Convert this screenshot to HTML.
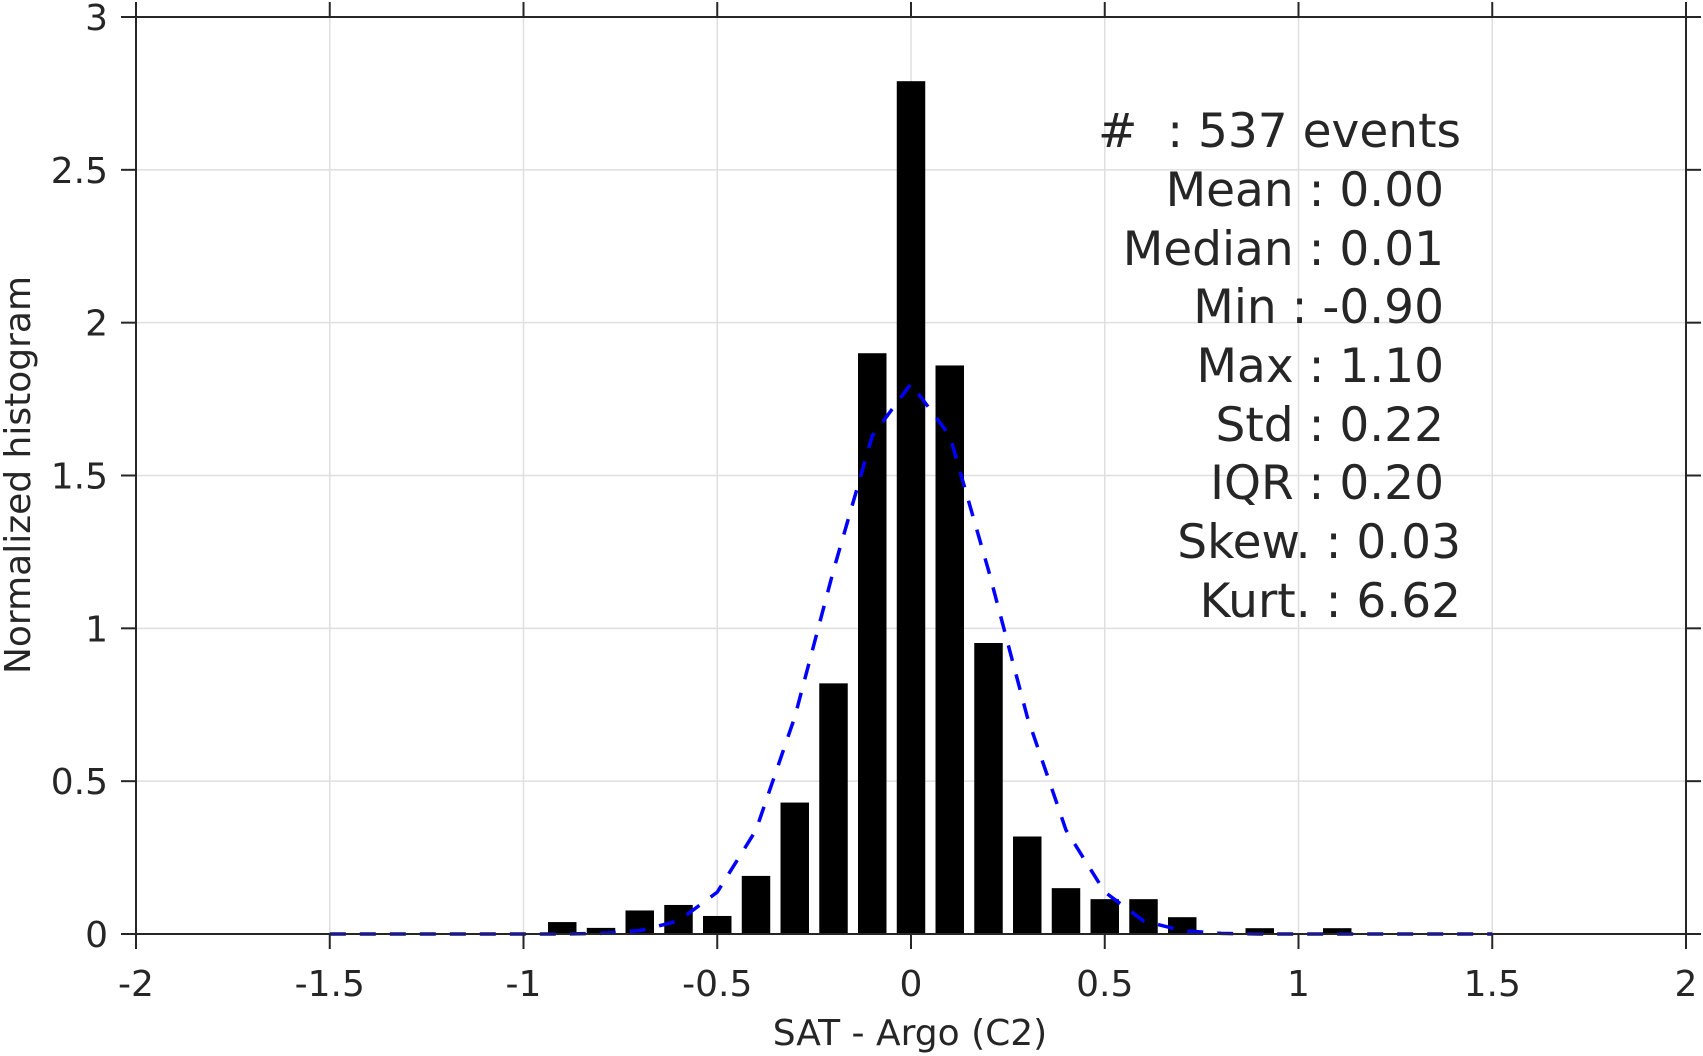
<!DOCTYPE html>
<html><head><meta charset="utf-8"><style>
html,body{margin:0;padding:0;background:#fff}
svg{display:block}
text{font-family:"DejaVu Sans","Liberation Sans",sans-serif;fill:#262626}
</style></head><body>
<svg id="chart" width="1703" height="1056" viewBox="0 0 1703 1056" xmlns="http://www.w3.org/2000/svg">
<g id="grid"></g>
<g id="bars"></g>
<path id="fit" fill="none" stroke="#0000ff" stroke-width="3.5" stroke-dasharray="16,14"></path>
<g id="axes"></g>
<g font-size="47">
<text x="1461" y="147" text-anchor="end"># &#160;: 537 events</text>
<text x="1444" y="206" text-anchor="end">Mean : 0.00</text>
<text x="1444" y="265" text-anchor="end">Median : 0.01</text>
<text x="1444" y="323" text-anchor="end">Min : -0.90</text>
<text x="1444" y="382" text-anchor="end">Max : 1.10</text>
<text x="1444" y="441" text-anchor="end">Std : 0.22</text>
<text x="1444" y="499" text-anchor="end">IQR : 0.20</text>
<text x="1461" y="558" text-anchor="end">Skew. : 0.03</text>
<text x="1461" y="617" text-anchor="end">Kurt. : 6.62</text>
</g>
<text font-size="36" text-anchor="middle" transform="translate(30,475) rotate(-90)">Normalized histogram</text>
<text font-size="36" text-anchor="middle" x="910" y="1045">SAT - Argo (C2)</text>
</svg>
<script>
const binCenters=[-0.9,-0.8,-0.7,-0.6,-0.5,-0.4,-0.3,-0.2,-0.1,0,0.1,0.2,0.3,0.4,0.5,0.6,0.7,0.8,0.9,1.0,1.1];
const binValues=[0.039,0.02,0.077,0.095,0.059,0.19,0.43,0.82,1.90,2.79,1.86,0.952,0.319,0.15,0.114,0.114,0.055,0,0.019,0,0.019];
const fitX=[-1.5,-1.4,-1.3,-1.2,-1.1,-1.0,-0.9,-0.8,-0.7,-0.6,-0.5,-0.4,-0.3,-0.2,-0.1,0,0.1,0.2,0.3,0.4,0.5,0.6,0.7,0.8,0.9,1.0,1.1,1.2,1.3,1.4,1.5];
const fitY=[0,0,0,0,0,0,0,0.002,0.011,0.043,0.137,0.34,0.71,1.19,1.63,1.80,1.63,1.19,0.71,0.34,0.137,0.043,0.011,0.002,0,0,0,0,0,0,0];
const xTicks=[-2,-1.5,-1,-0.5,0,0.5,1,1.5,2];
const xTickLabels=["-2","-1.5","-1","-0.5","0","0.5","1","1.5","2"];
const yTicks=[0,0.5,1,1.5,2,2.5,3];
const yTickLabels=["0","0.5","1","1.5","2","2.5","3"];
const barWidth=0.0735;
const L=136,R=1686,T=17,B=934,xmin=-2,xmax=2,ymin=0,ymax=3;
const X=v=>L+(v-xmin)/(xmax-xmin)*(R-L);
const Y=v=>B-(v-ymin)/(ymax-ymin)*(B-T);
const NS="http://www.w3.org/2000/svg";
function mk(tag,parent,attrs){const e=document.createElementNS(NS,tag);for(const k in attrs)e.setAttribute(k,attrs[k]);parent.appendChild(e);return e;}
const grid=document.getElementById('grid'),axes=document.getElementById('axes'),bars=document.getElementById('bars');
xTicks.forEach((t,i)=>{
  const g=mk('line',grid,{x1:X(t),x2:X(t),y1:T,y2:B,stroke:'#dfdfdf','stroke-width':1.5});
  
  
  const tb=mk('line',axes,{x1:X(t),x2:X(t),y1:B,y2:B+15,stroke:'#262626','stroke-width':2});
  
  
  const tt=mk('line',axes,{x1:X(t),x2:X(t),y1:T,y2:T-15,stroke:'#262626','stroke-width':2});
  
  
  const tx=mk('text',axes,{x:X(t),y:996,'text-anchor':'middle','font-size':36});
  tx.textContent=xTickLabels[i];
  
  
});
yTicks.forEach((t,i)=>{
  const g=mk('line',grid,{x1:L,x2:R,y1:Y(t),y2:Y(t),stroke:'#dfdfdf','stroke-width':1.5});
  
  
  const tl=mk('line',axes,{x1:L-15,x2:L,y1:Y(t),y2:Y(t),stroke:'#262626','stroke-width':2});
  
  
  const tr=mk('line',axes,{x1:R,x2:R+15,y1:Y(t),y2:Y(t),stroke:'#262626','stroke-width':2});
  
  
  const ty=mk('text',axes,{x:108,y:Y(t)+13,'text-anchor':'end','font-size':36});
  ty.textContent=yTickLabels[i];
  
  
});
const box=mk('rect',axes,{x:L,y:T,width:R-L,height:B-T,fill:'none',stroke:'#262626','stroke-width':2});


binCenters.forEach((c,i)=>{
  const v=binValues[i];
  const r=mk('rect',bars,{x:X(c-barWidth/2),y:Y(v),width:X(c+barWidth/2)-X(c-barWidth/2),height:Y(0)-Y(v),fill:'#000'});
  
  
});
document.getElementById('fit').setAttribute('d',fitX.map((x,i)=>(i?'L':'M')+X(x).toFixed(1)+','+Y(fitY[i]).toFixed(1)).join(' '));
</script>
</body></html>
